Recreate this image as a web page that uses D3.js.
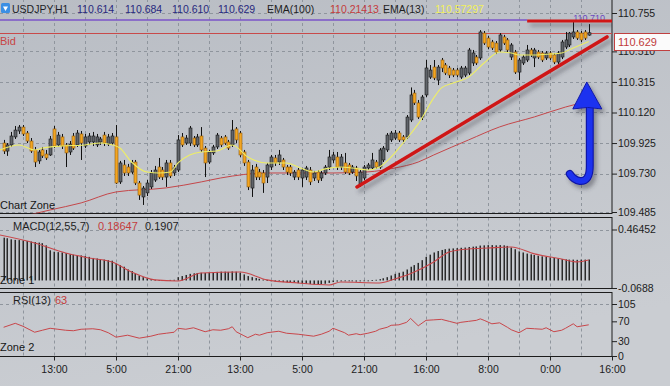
<!DOCTYPE html>
<html><head><meta charset="utf-8">
<script src="https://cdn.jsdelivr.net/npm/d3@7"></script>
<style>
html,body{margin:0;padding:0;background:#c2c5cb;}
svg{display:block;font-family:"Liberation Sans",Arial,sans-serif;}
</style></head><body>
<svg id="c" width="670" height="386"></svg>
<script>
// ---------------- DATA ----------------
const symbolLabel = "USDJPY,H1";
const quote = ["110.614", "110.684", "110.610", "110.629"];
const lastPrice = 110.629;
const emaSlowValue = "110.21413";
const emaFastValue = "110.57297";
const macdValues = ["0.18647", "0.1907"];
const rsiValue = "63";

// hourly candles, index 1..152
const opens = [
109.925,109.874,109.913,109.964,110.002,110.027,109.989,109.938,109.881,109.811,
109.881,109.855,109.849,110.015,109.913,109.964,109.913,109.868,109.970,109.913,
109.983,109.906,109.932,109.932,109.913,109.932,109.976,109.919,109.925,109.964,
109.677,109.785,109.772,109.740,109.804,109.670,109.581,109.607,109.645,109.689,
109.772,109.753,109.708,109.798,109.734,109.753,109.964,109.925,109.925,109.957,
109.913,109.970,109.893,109.804,109.862,109.900,109.957,109.964,109.932,109.913,
110.015,109.989,109.868,109.804,109.638,109.772,109.740,109.734,109.708,109.772,
109.830,109.804,109.817,109.772,109.772,109.708,109.753,109.702,109.708,109.753,
109.702,109.740,109.702,109.734,109.772,109.817,109.836,109.772,109.798,109.785,
109.740,109.766,109.664,109.702,109.766,109.766,109.804,109.772,109.817,109.881,
109.945,109.957,109.989,109.964,109.964,110.072,110.244,110.181,110.091,110.232,
110.346,110.410,110.327,110.455,110.423,110.404,110.391,110.391,110.346,110.359,
110.372,110.436,110.474,110.468,110.627,110.595,110.570,110.563,110.519,110.602,
110.583,110.474,110.506,110.378,110.436,110.455,110.519,110.468,110.506,110.500,
110.468,110.500,110.487,110.442,110.474,110.538,110.551,110.602,110.634,110.627,
110.634,110.614];
const highs = [
109.945,109.925,109.996,110.034,110.040,110.040,110.002,109.957,109.900,109.881,
109.900,109.881,109.970,110.034,109.996,109.983,109.925,109.938,109.989,110.008,
110.002,109.983,109.989,109.996,109.983,109.964,109.996,109.983,109.989,110.040,
109.811,109.817,109.792,109.817,109.817,109.683,109.651,109.689,109.753,109.779,
109.830,109.772,109.817,109.817,109.785,109.976,109.989,109.976,110.034,109.970,
109.983,110.027,109.906,109.881,109.913,109.989,109.970,109.976,109.945,110.072,
110.027,110.002,109.881,109.817,109.785,109.792,109.760,109.753,109.798,109.849,
109.849,109.881,109.830,109.785,109.785,109.753,109.766,109.766,109.779,109.772,
109.747,109.753,109.747,109.785,109.881,109.868,109.868,109.855,109.862,109.798,
109.785,109.779,109.753,109.785,109.798,109.862,109.817,109.893,109.906,109.989,
110.002,110.008,110.002,109.976,110.104,110.280,110.264,110.200,110.232,110.455,
110.423,110.455,110.423,110.468,110.436,110.417,110.404,110.404,110.417,110.417,
110.532,110.519,110.487,110.646,110.640,110.608,110.583,110.576,110.627,110.615,
110.595,110.563,110.519,110.468,110.487,110.551,110.532,110.532,110.519,110.512,
110.512,110.512,110.500,110.512,110.583,110.634,110.634,110.698,110.646,110.640,
110.646,110.684];
const lows = [
109.855,109.843,109.900,109.951,109.983,109.970,109.925,109.862,109.772,109.792,
109.830,109.817,109.843,109.893,109.900,109.887,109.772,109.849,109.881,109.900,
109.817,109.893,109.913,109.906,109.900,109.913,109.906,109.906,109.913,109.664,
109.664,109.715,109.715,109.728,109.657,109.562,109.530,109.587,109.632,109.677,
109.696,109.689,109.645,109.702,109.715,109.740,109.900,109.913,109.906,109.900,
109.900,109.868,109.708,109.792,109.849,109.887,109.900,109.913,109.881,109.900,
109.925,109.836,109.779,109.625,109.581,109.689,109.689,109.607,109.670,109.753,
109.779,109.785,109.753,109.721,109.715,109.689,109.689,109.645,109.689,109.657,
109.683,109.670,109.683,109.721,109.753,109.798,109.753,109.753,109.728,109.721,
109.728,109.683,109.645,109.689,109.753,109.753,109.760,109.760,109.804,109.868,
109.932,109.945,109.932,109.932,109.951,110.059,110.168,110.079,110.072,110.219,
110.334,110.327,110.295,110.378,110.359,110.340,110.346,110.346,110.334,110.346,
110.359,110.417,110.423,110.455,110.551,110.525,110.519,110.493,110.506,110.551,
110.506,110.455,110.366,110.327,110.423,110.442,110.474,110.410,110.461,110.442,
110.455,110.455,110.429,110.429,110.461,110.525,110.538,110.589,110.583,110.570,
110.583,110.610];
const closes = [
109.874,109.913,109.970,110.008,110.027,109.983,109.938,109.874,109.804,109.868,
109.843,109.830,109.951,109.906,109.976,109.906,109.862,109.919,109.893,109.989,
109.925,109.964,109.970,109.970,109.964,109.951,109.925,109.964,109.970,109.670,
109.798,109.734,109.734,109.798,109.670,109.593,109.638,109.670,109.734,109.753,
109.708,109.708,109.798,109.715,109.766,109.945,109.913,109.957,110.021,109.913,
109.964,109.881,109.798,109.868,109.900,109.976,109.913,109.925,109.893,110.008,
109.945,109.849,109.798,109.645,109.753,109.708,109.708,109.670,109.785,109.836,
109.798,109.849,109.772,109.740,109.734,109.740,109.708,109.753,109.766,109.677,
109.734,109.689,109.734,109.772,109.836,109.849,109.772,109.836,109.740,109.734,
109.772,109.715,109.740,109.772,109.785,109.817,109.772,109.881,109.893,109.976,
109.989,109.989,109.945,109.945,110.091,110.232,110.181,110.091,110.219,110.404,
110.391,110.340,110.410,110.404,110.372,110.359,110.359,110.359,110.404,110.404,
110.519,110.500,110.436,110.634,110.563,110.538,110.532,110.506,110.615,110.563,
110.519,110.551,110.378,110.455,110.474,110.519,110.487,110.519,110.474,110.455,
110.500,110.468,110.442,110.500,110.570,110.583,110.627,110.634,110.595,110.583,
110.595,110.629];

// EMA(13) and EMA(100) lines (bar index, price)
const emaFastIdx = [0,5,9,11,16,22,26,28,31,34,38,41,44,46,49,52,56,60,64,69,74,77,81,84,88,91,95,98,101,103,106,108,112,114,117,121,125,129,132,134,138,142,145,148,152];
const emaFast = [109.881,109.913,109.881,109.893,109.906,109.913,109.925,109.919,109.893,109.804,109.740,109.734,109.740,109.798,109.849,109.868,109.874,109.913,109.836,109.798,109.798,109.772,109.740,109.760,109.772,109.766,109.753,109.772,109.836,109.893,109.983,110.047,110.213,110.277,110.308,110.346,110.436,110.506,110.500,110.487,110.487,110.493,110.500,110.532,110.573];
const emaSlowIdx = [0,13,21,30,43,52,57,69,77,86,95,102,108,112,121,129,138,146,150,152];
const emaSlow = [109.422,109.498,109.543,109.613,109.639,109.677,109.702,109.734,109.734,109.734,109.741,109.766,109.804,109.849,109.945,110.028,110.092,110.155,110.181,110.195];

// MACD histogram, index 1..152
const macdHist = [
0.390,0.385,0.375,0.370,0.368,0.365,0.360,0.355,0.350,0.345,
0.340,0.320,0.275,0.262,0.258,0.255,0.250,0.240,0.235,0.230,
0.228,0.222,0.215,0.205,0.200,0.195,0.190,0.185,0.180,0.155,
0.140,0.125,0.100,0.085,0.065,0.045,0.030,0.020,0.012,0.006,
0.003,0.002,0.004,0.005,0.006,0.030,0.040,0.050,0.060,0.065,
0.068,0.070,0.068,0.072,0.075,0.078,0.080,0.080,0.078,0.082,
0.080,0.070,0.055,0.040,0.030,0.022,0.015,0.008,0.004,-0.005,
-0.010,-0.012,-0.015,-0.018,-0.020,-0.022,-0.025,-0.028,-0.030,-0.032,
-0.035,-0.035,-0.033,-0.030,-0.022,-0.015,-0.010,-0.008,-0.006,-0.006,
-0.008,-0.010,-0.008,-0.005,-0.004,0.003,0.006,0.012,0.020,0.030,
0.045,0.060,0.070,0.080,0.100,0.125,0.140,0.160,0.185,0.215,
0.235,0.255,0.268,0.278,0.285,0.290,0.292,0.295,0.298,0.300,
0.305,0.308,0.310,0.318,0.320,0.322,0.322,0.320,0.322,0.320,
0.315,0.300,0.285,0.265,0.255,0.245,0.238,0.232,0.225,0.220,
0.215,0.210,0.205,0.200,0.195,0.192,0.190,0.190,0.188,0.190,
0.190,0.191];
const macdSigIdx = [0,9,17,23,29,34,40,46,52,62,69,77,85,88,98,102,107,112,116,121,126,132,138,145,149,152];
const macdSig = [0.415,0.342,0.251,0.205,0.169,0.077,0.005,-0.005,0.068,0.077,0.005,-0.023,-0.041,-0.014,-0.023,0.014,0.077,0.169,0.260,0.287,0.296,0.305,0.242,0.196,0.169,0.186];

// RSI(13)
const rsiIdx = [1,4,6,9,11,13,15,17,19,21,24,26,28,30,33,36,39,41,43,45,46,48,50,53,55,57,59,60,61,63,64,66,67,69,70,72,74,77,79,81,83,85,86,89,90,92,93,95,97,98,100,101,103,105,106,108,110,112,114,116,118,119,121,123,124,125,127,129,131,132,134,136,138,140,141,143,145,146,148,149,152];
const rsiVals = [58,66,60,48,52,56,54,52,51,54,55,53,47,38,42,36,40,44,46,48,56,54,57,49,53,52,55,59,49,41,37,44,42,47,48,50,46,44,42,40,44,50,56,47,42,45,43,46,50,54,58,62,63,68,76,61,72,73,74,70,66,68,70,72,75,72,65,67,58,53,47,56,55,54,57,49,52,56,65,59,63];

// axes
const mainTicks = [110.755, 110.510, 110.315, 110.120, 109.925, 109.730, 109.485];
const macdTicks = [0.46452, -0.0688];
const macdTickLabels = ["0.46452", "-0.0688"];
const rsiTicks = [105, 70, 30, 0];
const timeTickIdx = [14, 30, 46, 62, 78, 94, 110, 126, 142, 158];
const timeLabels = ["13:00","5:00","21:00","13:00","5:00","21:00","16:00","8:00","0:00","16:00"];

// drawn objects (price levels, trend line)
const purpleLevel = 110.710, purpleLabel = "110.710";
const resistLevel = 110.704, resistFrom = 136.1;
const trendFrom = {i: 92.2, p: 109.645}, trendTo = {i: 156.7, p: 110.602};
const arrowTip = {i: 151.5, p: 110.315};

// ---------------- DRAW ----------------
const W = 670, H = 386, PR = 612;
const svg = d3.select("#c");
const defs = svg.append("defs");
const bg = defs.append("linearGradient").attr("id","bg").attr("x1",0).attr("y1",0).attr("x2",0.3).attr("y2",1);
bg.append("stop").attr("offset","0%").attr("stop-color","#b9bdc4");
bg.append("stop").attr("offset","100%").attr("stop-color","#cacdd2");
svg.append("rect").attr("width",W).attr("height",H).attr("fill","url(#bg)");

const sh = defs.append("filter").attr("id","sh").attr("filterUnits","userSpaceOnUse")
  .attr("x",0).attr("y",0).attr("width",W).attr("height",H);
sh.append("feDropShadow").attr("dx",3).attr("dy",4).attr("stdDeviation",2)
  .attr("flood-color","#3a3d44").attr("flood-opacity",0.45);

const xS = d3.scaleLinear().domain([0,158]).range([-0.25,PR]);
const yM = d3.scaleLinear().domain([109.485,110.755]).range([212,13]);
const yD = d3.scaleLinear().domain([-0.0688,0.46452]).range([288,229.5]);
const yR = d3.scaleLinear().domain([0,105]).range([356,304]);

const panels = [
  {id:"pm", y0:-1, y1:213.5},
  {id:"pd", y0:217.5, y1:288.5},
  {id:"pr", y0:292.5, y1:356.5}
];
panels.forEach(p => {
  defs.append("clipPath").attr("id","clip-"+p.id).append("rect")
    .attr("x",0).attr("y",p.y0).attr("width",PR).attr("height",p.y1-p.y0);
});

// grids
const gridColor = "#8f959d";
const vIdx = d3.range(6, 158, 8);
panels.forEach(p => {
  svg.append("g").selectAll("line").data(vIdx).join("line")
    .attr("x1",d=>Math.round(xS(d))+0.5).attr("x2",d=>Math.round(xS(d))+0.5)
    .attr("y1",p.y0).attr("y2",p.y1)
    .attr("stroke",gridColor).attr("stroke-width",1).attr("stroke-dasharray","3,3");
});
function hgrid(vals, scale) {
  svg.append("g").selectAll("line").data(vals).join("line")
    .attr("x1",0).attr("x2",PR)
    .attr("y1",d=>Math.round(scale(d))+0.5).attr("y2",d=>Math.round(scale(d))+0.5)
    .attr("stroke",gridColor).attr("stroke-width",1).attr("stroke-dasharray","3,3");
}
hgrid(mainTicks, yM);
hgrid([0.46452], yD);
hgrid([105], yR);

// panel borders
panels.forEach(p => {
  svg.append("rect").attr("x",-1).attr("y",p.y0).attr("width",PR+1).attr("height",p.y1-p.y0)
    .attr("fill","none").attr("stroke","#1c1c1c").attr("stroke-width",1);
});

// ---- main panel ----
const gm = svg.append("g").attr("clip-path","url(#clip-pm)");

gm.append("line").attr("x1",0).attr("x2",xS(resistFrom))
  .attr("y1",yM(purpleLevel)).attr("y2",yM(purpleLevel))
  .attr("stroke","#7b55c9").attr("stroke-width",1.5);
gm.append("line").attr("x1",0).attr("x2",PR)
  .attr("y1",Math.round(yM(lastPrice))+0.5).attr("y2",Math.round(yM(lastPrice))+0.5)
  .attr("stroke","#c84a4a").attr("stroke-width",1);

const lineM = d3.line().x(d=>xS(d[0])).y(d=>yM(d[1])).curve(d3.curveMonotoneX);
gm.append("path").attr("d",lineM(d3.zip(emaSlowIdx, emaSlow)))
  .attr("fill","none").attr("stroke","#c4474a").attr("stroke-width",1);

const candles = opens.map((o,k)=>({i:k+1,o:o,h:highs[k],l:lows[k],c:closes[k]}));
const cg = gm.append("g");
cg.selectAll("line").data(candles).join("line")
  .attr("x1",d=>Math.round(xS(d.i))+0.5).attr("x2",d=>Math.round(xS(d.i))+0.5)
  .attr("y1",d=>yM(d.h)).attr("y2",d=>yM(d.l))
  .attr("stroke","#111").attr("stroke-width",1);
cg.selectAll("rect").data(candles).join("rect")
  .attr("x",d=>Math.round(xS(d.i))-1)
  .attr("width",3)
  .attr("y",d=>yM(Math.max(d.o,d.c)))
  .attr("height",d=>Math.max(1, yM(Math.min(d.o,d.c))-yM(Math.max(d.o,d.c))))
  .attr("fill",d=>d.c>=d.o?"#60646a":"#f3a522")
  .attr("stroke",d=>d.c>=d.o?"#161616":"#8c5a12")
  .attr("stroke-width",0.6);

gm.append("path").attr("d",lineM(d3.zip(emaFastIdx, emaFast)))
  .attr("fill","none").attr("stroke","#eeee66").attr("stroke-width",1.1);

gm.append("text").attr("x",xS(148)).attr("y",yM(purpleLevel)+1)
  .attr("font-size",9).attr("fill","#6a48c0").text(purpleLabel);

const dg = gm.append("g").attr("filter","url(#sh)");
dg.append("line").attr("x1",xS(trendFrom.i)).attr("y1",yM(trendFrom.p))
  .attr("x2",xS(trendTo.i)).attr("y2",yM(trendTo.p))
  .attr("stroke","#cf1616").attr("stroke-width",3.6).attr("stroke-linecap","round");
dg.append("line").attr("x1",xS(resistFrom)).attr("x2",PR+2)
  .attr("y1",yM(resistLevel)).attr("y2",yM(resistLevel))
  .attr("stroke","#d01616").attr("stroke-width",3.2);

const tx = xS(arrowTip.i), ty = yM(arrowTip.p);
const ag = gm.append("g").attr("filter","url(#sh)");
const stem = `M${tx+3},${ty+24} L${tx+3},${ty+84} Q${tx+3},${ty+100} ${tx-7},${ty+99} Q${tx-13},${ty+98} ${tx-17},${ty+92}`;
ag.append("path").attr("d",stem).attr("fill","none").attr("stroke","#1018a8")
  .attr("stroke-width",8).attr("stroke-linecap","round");
ag.append("path").attr("d",stem).attr("fill","none").attr("stroke","#1f33f0")
  .attr("stroke-width",5.6).attr("stroke-linecap","round");
ag.append("path")
  .attr("d",`M${tx},${ty} L${tx+15},${ty+27} Q${tx+1},${ty+24} ${tx-14},${ty+27} Z`)
  .attr("fill","#1f33f0").attr("stroke","#1018a8").attr("stroke-width",1);

// ---- MACD panel ----
const gd = svg.append("g").attr("clip-path","url(#clip-pd)");
gd.selectAll("rect").data(macdHist.map((v,k)=>({i:k+1,v:v}))).join("rect")
  .attr("x",d=>Math.round(xS(d.i))-0.5).attr("width",1.5)
  .attr("y",d=>Math.min(yD(d.v),yD(0)))
  .attr("height",d=>Math.max(0.8,Math.abs(yD(d.v)-yD(0))))
  .attr("fill","#2a2a2a");
gd.append("path")
  .attr("d",d3.line().x(d=>xS(d[0])).y(d=>yD(d[1])).curve(d3.curveMonotoneX)(d3.zip(macdSigIdx, macdSig)))
  .attr("fill","none").attr("stroke","#c8464a").attr("stroke-width",1.1);

// ---- RSI panel ----
const gr = svg.append("g").attr("clip-path","url(#clip-pr)");
gr.append("path")
  .attr("d",d3.line().x(d=>xS(d[0])).y(d=>yR(d[1]))(d3.zip(rsiIdx, rsiVals)))
  .attr("fill","none").attr("stroke","#c8464a").attr("stroke-width",1);

// ---- axes ----
function styleAxis(g, fs) {
  g.select(".domain").remove();
  g.selectAll(".tick line").attr("stroke","#222");
  g.selectAll("text").attr("fill","#1c1c1c").attr("font-size",fs)
    .attr("font-family","Liberation Sans, Arial, sans-serif");
}
const axM = svg.append("g").attr("transform",`translate(${PR},0)`)
  .call(d3.axisRight(yM).tickValues(mainTicks).tickFormat(d3.format(".3f")).tickSize(5).tickPadding(1));
styleAxis(axM, 10.5);
const axD = svg.append("g").attr("transform",`translate(${PR},0)`)
  .call(d3.axisRight(yD).tickValues(macdTicks).tickFormat((d,k)=>macdTickLabels[k]).tickSize(5).tickPadding(1));
styleAxis(axD, 10.5);
const axR = svg.append("g").attr("transform",`translate(${PR},0)`)
  .call(d3.axisRight(yR).tickValues(rsiTicks).tickSize(5).tickPadding(1));
styleAxis(axR, 10.5);
const axT = svg.append("g").attr("transform","translate(0,356.5)")
  .call(d3.axisBottom(xS).tickValues(timeTickIdx).tickFormat((d,k)=>timeLabels[k]).tickSize(4).tickPadding(5));
styleAxis(axT, 10.5);

// last price box
const by = Math.round(yM(lastPrice));
svg.append("rect").attr("x",614.5).attr("y",by+0.5).attr("width",56).attr("height",17)
  .attr("fill","#fbfbfb").attr("stroke","#c04040").attr("stroke-width",1);
svg.append("text").attr("x",618).attr("y",by+13).attr("font-size",11)
  .attr("fill","#c03a3a").text(d3.format(".3f")(lastPrice));

// ---- header / labels ----
const hdr = svg.append("g").attr("font-size",10.5);
hdr.append("rect").attr("x",1).attr("y",3).attr("width",9).attr("height",10).attr("rx",1.5).attr("fill","#3b8fe4");
hdr.append("path").attr("d","M3,6.5 L8,6.5 L5.5,11 Z").attr("fill","#fff");
hdr.append("text").attr("x",12).attr("y",13).attr("fill","#1e1e28").text(symbolLabel);
const qx = [77,125,172,218];
quote.forEach((q,k)=>hdr.append("text").attr("x",qx[k]).attr("y",13).attr("fill","#28287e").text(q));
hdr.append("text").attr("x",267).attr("y",13).attr("fill","#1e1e1e").text("EMA(100)");
hdr.append("text").attr("x",330).attr("y",13).attr("fill","#c43c3c").text(emaSlowValue);
hdr.append("text").attr("x",383).attr("y",13).attr("fill","#1e1e1e").text("EMA(13)");
hdr.append("text").attr("x",435).attr("y",13).attr("fill","#f2f05a").text(emaFastValue);

const lab = svg.append("g").attr("font-size",11);
lab.append("text").attr("x",0).attr("y",45).attr("fill","#c84444").text("Bid");
lab.append("text").attr("x",0).attr("y",209).attr("fill","#161616").text("Chart Zone");
lab.append("text").attr("x",13).attr("y",229.5).attr("fill","#1e1e1e").text("MACD(12,55,7)");
lab.append("text").attr("x",98).attr("y",229.5).attr("fill","#c43c3c").text(macdValues[0]);
lab.append("text").attr("x",145).attr("y",229.5).attr("fill","#1e1e1e").text(macdValues[1]);
lab.append("text").attr("x",0).attr("y",284).attr("fill","#161616").text("Zone 1");
lab.append("text").attr("x",13).attr("y",304).attr("fill","#1e1e1e").text("RSI(13)");
lab.append("text").attr("x",55).attr("y",304).attr("fill","#c43c3c").text(rsiValue);
lab.append("text").attr("x",0).attr("y",351).attr("fill","#161616").text("Zone 2");
</script>
</body></html>
